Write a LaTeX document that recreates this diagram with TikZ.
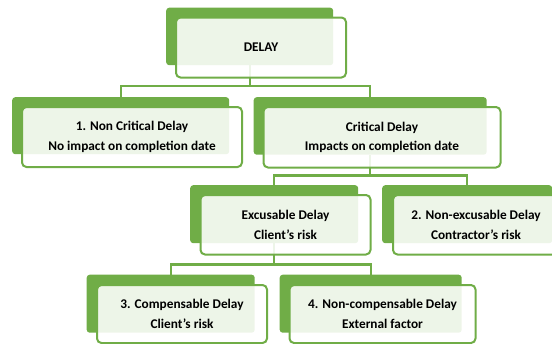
\documentclass[tikz,border=0pt]{standalone}
\usepackage{fontspec}
\setmainfont{Carlito}
\usetikzlibrary{calc}
\definecolor{og}{HTML}{70AD47}
\begin{document}
\begin{tikzpicture}[x=1pt,y=-1pt,
  backbox/.style={fill=og, rounded corners=3pt, inner sep=0pt, anchor=north west},
  frontbox/.style={draw=og, line width=2pt, fill=white, fill opacity=0.88, text opacity=1,
     rounded corners=4.5pt, inner sep=0pt, anchor=north west, align=center,
     font=\bfseries\fontsize{13.3}{19.5}\selectfont, text=black},
  link/.style={draw=og, line width=2.2pt}]
\useasboundingbox (0,0) rectangle (552,343);
\clip (0,0) rectangle (552,343);
% back boxes
\node[backbox, minimum width=167pt, minimum height=57.5pt] (delayB) at (166,7.5) {};
\node[backbox, minimum width=217pt, minimum height=57pt] (ncB) at (12,97) {};
\node[backbox, minimum width=233pt, minimum height=57.5pt] (critB) at (253.5,97) {};
\node[backbox, minimum width=168pt, minimum height=58pt] (excB) at (190,185) {};
\node[backbox, minimum width=170pt, minimum height=58pt] (nexB) at (382,185) {};
\node[backbox, minimum width=168pt, minimum height=58pt] (compB) at (86.5,274.5) {};
\node[backbox, minimum width=182pt, minimum height=58pt] (ncompB) at (279.5,274.5) {};
% connectors
\coordinate (j1) at ($(delayB.south)+(0,20.5)$);
\path[link] (delayB.south) -- (j1) -| (ncB.north);
\path[link] (j1) -| (critB.north);
\coordinate (j2) at ($(critB.south)+(0,20.5)$);
\path[link] (critB.south) -- (j2) -| (excB.north);
\path[link] (j2) -| (nexB.north);
\coordinate (j3) at ($(excB.south)+(0,21)$);
\path[link] (excB.south) -- (j3) -| (compB.north);
\path[link] (j3) -| (ncompB.north);
% front boxes
\node[frontbox, minimum width=170pt, minimum height=60pt] (delayF) at (175,16.5) {DELAY};
\node[frontbox, minimum width=220pt, minimum height=60pt] (ncF) at (21,106) {1. Non Critical Delay\\No impact on completion date};
\node[frontbox, minimum width=237pt, minimum height=60.5pt] (critF) at (262.5,106) {Critical Delay\\Impacts on completion date};
\node[frontbox, minimum width=170pt, minimum height=59.5pt] (excF) at (199.5,194) {Excusable Delay\\Client’s risk};
\node[frontbox, minimum width=166pt, minimum height=59.5pt] (nexF) at (392,194) {2. Non-excusable Delay\\Contractor’s risk};
\node[frontbox, minimum width=170pt, minimum height=58pt] (compF) at (96,284) {3. Compensable Delay\\Client’s risk};
\node[frontbox, minimum width=186pt, minimum height=58pt] (ncompF) at (288.5,284) {4. Non-compensable Delay\\External factor};
\end{tikzpicture}
\end{document}
